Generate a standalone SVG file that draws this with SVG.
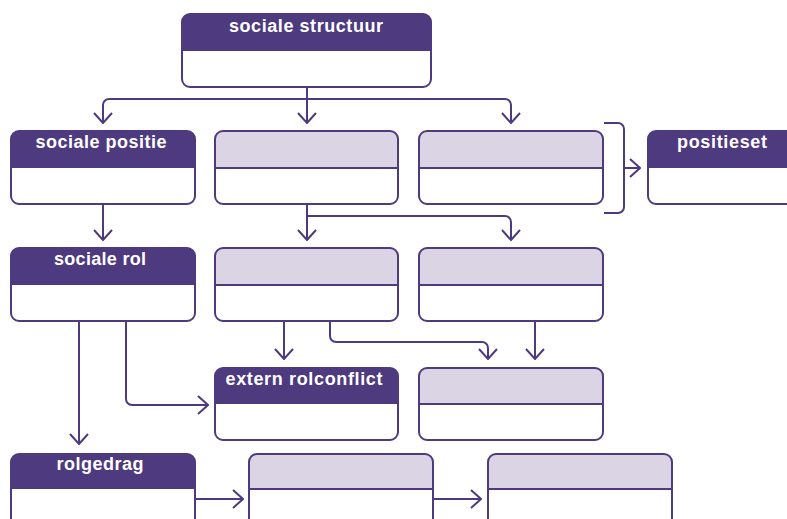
<svg xmlns="http://www.w3.org/2000/svg" width="787" height="519" viewBox="0 0 787 519">
<style>
.o{fill:none;stroke:#4d3a7f;stroke-width:2}
.hd{fill:#4d3a7f}
.hl{fill:#dbd4e5}
.dv{stroke:#4d3a7f;stroke-width:2}
.t{font-family:"Liberation Sans",Arial,sans-serif;font-weight:bold;font-size:18px;fill:#ffffff;text-anchor:middle}
.c{fill:none;stroke:#4d3a7f;stroke-width:2}
</style>
<defs>
<marker id="ar" viewBox="-12 -11 13 22" markerWidth="13" markerHeight="22" refX="0" refY="0" markerUnits="userSpaceOnUse" orient="auto">
<path d="M-10,-9 L0,0 L-10,9" fill="none" stroke="#4d3a7f" stroke-width="2" stroke-linejoin="miter"/>
</marker>
</defs>
<rect width="787" height="519" fill="#ffffff"/>

<g id="connectors">
<path class="c" d="M307,87 V123" marker-end="url(#ar)"/>
<path class="c" d="M307,99 H109 A6,6 0 0 0 103,105 V123" marker-end="url(#ar)"/>
<path class="c" d="M307,99 H505 A6,6 0 0 1 511,105 V123" marker-end="url(#ar)"/>
<path class="c" d="M103,204 V240" marker-end="url(#ar)"/>
<path class="c" d="M307,204 V240" marker-end="url(#ar)"/>
<path class="c" d="M307,216 H505 A6,6 0 0 1 511,222 V240" marker-end="url(#ar)"/>
<path class="c" d="M284,321 V359" marker-end="url(#ar)"/>
<path class="c" d="M330,321 V336 A6,6 0 0 0 336,342 H482 A6,6 0 0 1 488,348 V359" marker-end="url(#ar)"/>
<path class="c" d="M535,321 V359" marker-end="url(#ar)"/>
<path class="c" d="M79,321 V444" marker-end="url(#ar)"/>
<path class="c" d="M126,321 V399 A6,6 0 0 0 132,405 H208" marker-end="url(#ar)"/>
<path class="c" d="M195,499 H243" marker-end="url(#ar)"/>
<path class="c" d="M433,499 H481" marker-end="url(#ar)"/>
<path class="c" d="M604,123 H618 A6,6 0 0 1 624,129 V207 A6,6 0 0 1 618,213 H604"/>
<path class="c" d="M624,168 H640" marker-end="url(#ar)"/>
</g>

<g id="sociale-structuur">
<path class="hd" d="M182,51 V22 A8,8 0 0 1 190,14 H423 A8,8 0 0 1 431,22 V51 Z"/>
<rect class="o" x="182" y="14" width="249" height="73" rx="8"/>
<text class="t" x="306" y="31.5" textLength="154">sociale  structuur</text>
</g>

<g id="sociale-positie">
<path class="hd" d="M11,168 V139 A8,8 0 0 1 19,131 H187 A8,8 0 0 1 195,139 V168 Z"/>
<rect class="o" x="11" y="131" width="184" height="73" rx="8"/>
<text class="t" x="101" y="148" textLength="131">sociale  positie</text>
</g>

<g id="positie-2">
<path class="hl" d="M215,168 V139 A8,8 0 0 1 223,131 H390 A8,8 0 0 1 398,139 V168 Z"/>
<line class="dv" x1="215" y1="168" x2="398" y2="168"/>
<rect class="o" x="215" y="131" width="183" height="73" rx="8"/>
</g>

<g id="positie-3">
<path class="hl" d="M419,168 V139 A8,8 0 0 1 427,131 H595 A8,8 0 0 1 603,139 V168 Z"/>
<line class="dv" x1="419" y1="168" x2="603" y2="168"/>
<rect class="o" x="419" y="131" width="184" height="73" rx="8"/>
</g>

<g id="positieset">
<path class="hd" d="M648,168 V139 A8,8 0 0 1 656,131 H830 V168 Z"/>
<rect class="o" x="648" y="131" width="184" height="73" rx="8"/>
<text class="t" x="722" y="147.5" textLength="90">positieset</text>
</g>

<g id="sociale-rol">
<path class="hd" d="M11,285 V256 A8,8 0 0 1 19,248 H187 A8,8 0 0 1 195,256 V285 Z"/>
<rect class="o" x="11" y="248" width="184" height="73" rx="8"/>
<text class="t" x="100" y="265" textLength="92">sociale  rol</text>
</g>

<g id="rol-2">
<path class="hl" d="M215,285 V256 A8,8 0 0 1 223,248 H390 A8,8 0 0 1 398,256 V285 Z"/>
<line class="dv" x1="215" y1="285" x2="398" y2="285"/>
<rect class="o" x="215" y="248" width="183" height="73" rx="8"/>
</g>

<g id="rol-3">
<path class="hl" d="M419,285 V256 A8,8 0 0 1 427,248 H595 A8,8 0 0 1 603,256 V285 Z"/>
<line class="dv" x1="419" y1="285" x2="603" y2="285"/>
<rect class="o" x="419" y="248" width="184" height="73" rx="8"/>
</g>

<g id="extern-rolconflict">
<path class="hd" d="M215,404 V376 A8,8 0 0 1 223,368 H390 A8,8 0 0 1 398,376 V404 Z"/>
<rect class="o" x="215" y="368" width="183" height="72" rx="8"/>
<text class="t" x="304" y="385" textLength="157">extern  rolconflict</text>
</g>

<g id="conflict-2">
<path class="hl" d="M419,404 V376 A8,8 0 0 1 427,368 H595 A8,8 0 0 1 603,376 V404 Z"/>
<line class="dv" x1="419" y1="404" x2="603" y2="404"/>
<rect class="o" x="419" y="368" width="184" height="72" rx="8"/>
</g>

<g id="rolgedrag">
<path class="hd" d="M11,489 V462 A8,8 0 0 1 19,454 H187 A8,8 0 0 1 195,462 V489 Z"/>
<rect class="o" x="11" y="454" width="184" height="100" rx="8"/>
<text class="t" x="100" y="470" textLength="87">rolgedrag</text>
</g>

<g id="gedrag-2">
<path class="hl" d="M249,489 V462 A8,8 0 0 1 257,454 H425 A8,8 0 0 1 433,462 V489 Z"/>
<line class="dv" x1="249" y1="489" x2="433" y2="489"/>
<rect class="o" x="249" y="454" width="184" height="100" rx="8"/>
</g>

<g id="gedrag-3">
<path class="hl" d="M488,489 V462 A8,8 0 0 1 496,454 H664 A8,8 0 0 1 672,462 V489 Z"/>
<line class="dv" x1="488" y1="489" x2="672" y2="489"/>
<rect class="o" x="488" y="454" width="184" height="100" rx="8"/>
</g>
</svg>
